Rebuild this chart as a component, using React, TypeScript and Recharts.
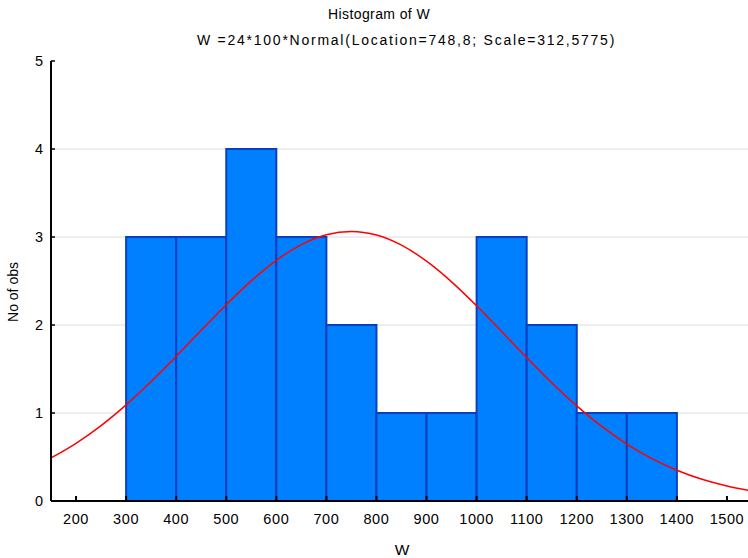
import React from 'react';
import { ComposedChart, XAxis, YAxis, Line, ReferenceArea, CartesianGrid } from 'recharts';

// Histogram bins (lower / upper edges) and counts
const binStarts = [300, 400, 500, 600, 700, 800, 900, 1000, 1100, 1200, 1300];
const binEnds = [400, 500, 600, 700, 800, 900, 1000, 1100, 1200, 1300, 1400];
const counts = [3, 3, 4, 3, 2, 1, 1, 3, 2, 1, 1];

// Fitted normal curve
const curveX = [150, 200, 250, 300, 350, 400, 450, 500, 550, 600, 650, 700, 750, 800, 850, 900, 950, 1000, 1050, 1100, 1150, 1200, 1250, 1300, 1350, 1400, 1450, 1500, 1550];
const curveY = [0.489, 0.656, 0.857, 1.093, 1.357, 1.644, 1.94, 2.231, 2.502, 2.735, 2.914, 3.026, 3.063, 3.022, 2.907, 2.725, 2.49, 2.218, 1.926, 1.63, 1.344, 1.081, 0.847, 0.647, 0.482, 0.35, 0.247, 0.171, 0.115];

const xTicks = [200, 300, 400, 500, 600, 700, 800, 900, 1000, 1100, 1200, 1300, 1400, 1500];
const yTicks = [0, 1, 2, 3, 4, 5];

const titleText = 'Histogram of W';
const subtitleText = 'W =24*100*Normal(Location=748,8; Scale=312,5775)';
const xLabel = 'W';
const yLabel = 'No of obs';

const curveData = curveX.map((x, i) => ({ x, y: curveY[i] }));

const FONT = '"Liberation Sans", Arial, sans-serif';

const BottomTick = (props: any) => {
  const { x, y, payload } = props;
  return (
    <g>
      <line x1={x} x2={x} y1={y - 8} y2={y - 13} stroke="#000" strokeWidth={2} />
      <text x={x} y={y + 15} textAnchor="middle" fontSize={14.5} letterSpacing={0.6} fontFamily={FONT} fill="#000">
        {payload.value}
      </text>
    </g>
  );
};

const TopTick = (props: any) => {
  const { x, y } = props;
  return <line x1={x} x2={x} y1={y} y2={y + 5} stroke="#000" strokeWidth={2} />;
};

const LeftTick = (props: any) => {
  const { x, y, payload } = props;
  return (
    <g>
      <line x1={x + 8} x2={x + 12} y1={y} y2={y} stroke="#000" strokeWidth={1.5} />
      <text x={x} y={y + 5} textAnchor="end" fontSize={14.5} fontFamily={FONT} fill="#000">
        {payload.value}
      </text>
    </g>
  );
};

export default function App() {
  return (
    <div style={{ position: 'fixed', left: 0, top: 0, width: 748, height: 558, overflow: 'hidden', background: '#fff' }}>
      <ComposedChart
        width={770}
        height={558}
        data={curveData}
        margin={{ top: 61, right: 18, bottom: 27, left: 10 }}
      >
        <CartesianGrid vertical={false} horizontalValues={[1, 2, 3, 4]} stroke="#dcdcdc" strokeWidth={1} />
        <XAxis
          dataKey="x"
          type="number"
          domain={[150, 1550]}
          ticks={xTicks}
          allowDataOverflow
          height={30}
          tickSize={0}
          tickMargin={8}
          tickLine={false}
          axisLine={{ stroke: '#000', strokeWidth: 2 }}
          tick={<BottomTick />}
          interval={0}
        />
        <XAxis
          xAxisId="top"
          orientation="top"
          dataKey="x"
          type="number"
          domain={[150, 1550]}
          ticks={xTicks}
          allowDataOverflow
          height={0}
          tickSize={0}
          tickMargin={0}
          tickLine={false}
          axisLine={{ stroke: '#000', strokeWidth: 2 }}
          tick={<TopTick />}
          interval={0}
        />
        <YAxis
          type="number"
          domain={[0, 5]}
          ticks={yTicks}
          width={41}
          tickSize={0}
          tickMargin={8}
          tickLine={false}
          axisLine={{ stroke: '#000', strokeWidth: 2 }}
          tick={<LeftTick />}
          interval={0}
        />
        {binStarts.map((s, i) => (
          <ReferenceArea
            key={s}
            x1={s}
            x2={binEnds[i]}
            y1={0}
            y2={counts[i]}
            fill="#0080ff"
            fillOpacity={1}
            stroke="#0a40c0"
            strokeWidth={2}
            strokeOpacity={1}
          />
        ))}
        <Line
          dataKey="y"
          type="monotone"
          stroke="#ff0000"
          strokeWidth={1.5}
          dot={false}
          activeDot={false}
          isAnimationActive={false}
        />
      </ComposedChart>
      <svg width={748} height={558} style={{ position: 'absolute', left: 0, top: 0, pointerEvents: 'none' }}>
        <text x={328} y={19} fontSize={14} letterSpacing={0.4} fontFamily={FONT} fill="#000">
          {titleText}
        </text>
        <text x={197} y={45} fontSize={14} letterSpacing={1.75} fontFamily={FONT} fill="#000">
          {subtitleText}
        </text>
        <text x={402} y={555} textAnchor="middle" fontSize={15.5} fontFamily={FONT} fill="#000">
          {xLabel}
        </text>
        <text x={18} y={292} textAnchor="middle" fontSize={14} fontFamily={FONT} fill="#000" transform="rotate(-90 18 292)">
          {yLabel}
        </text>
      </svg>
    </div>
  );
}
